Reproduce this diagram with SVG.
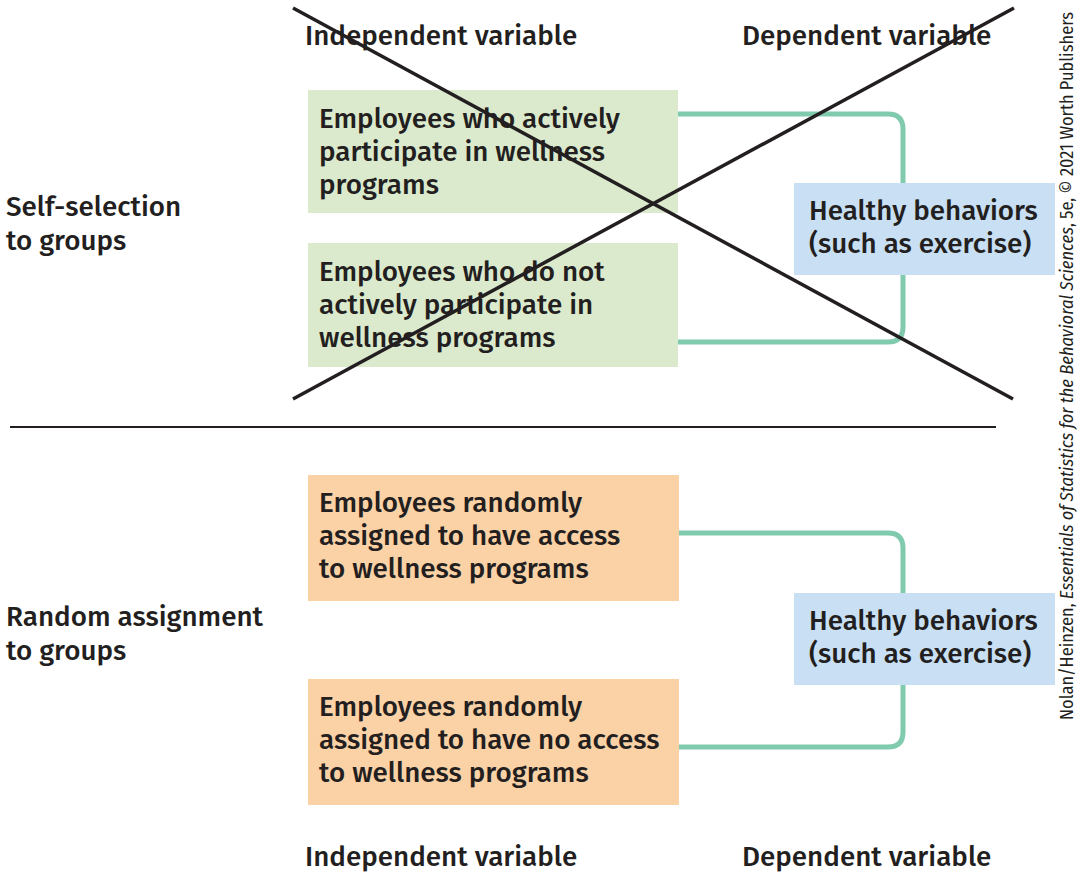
<svg xmlns="http://www.w3.org/2000/svg" width="1084" height="881" viewBox="0 0 1084 881">
<style>
text{font-family:"Fira Sans",Roboto,"Liberation Sans",sans-serif;font-weight:500;fill:#231f20;font-size:27.8px}
.g{fill:#dbeacd}.o{fill:#fbd1a6}.b{fill:#c8dff4}
.c{fill:none;stroke:#80cbad;stroke-width:5}
.x{stroke:#231f20;stroke-width:3.5}
.cr{font-size:18.3px;font-weight:400;font-family:"Fira Sans Condensed","Fira Sans",Roboto,sans-serif}
</style>
<rect width="1084" height="881" fill="#fff"/>
<g id="connectors">
<path class="c" d="M678 114 H888 Q903 114 903 129 V327 Q903 342 888 342 H678"/>
<path class="c" d="M678 533 H888 Q903 533 903 548 V732 Q903 747 888 747 H678"/>
</g>
<g id="headers">
<text x="305" y="45">Independent variable</text>
<text x="742" y="45">Dependent variable</text>
<text x="305" y="866">Independent variable</text>
<text x="742" y="866">Dependent variable</text>
</g>
<g id="label-self">
<text x="6" y="216">Self-selection</text>
<text x="6" y="250">to groups</text>
</g>
<g id="label-random">
<text x="6" y="626">Random assignment</text>
<text x="6" y="660">to groups</text>
</g>
<g id="node-active">
<rect class="g" x="308" y="90" width="370" height="123"/>
<text x="319" y="128">Employees who actively</text>
<text x="319" y="161">participate in wellness</text>
<text x="319" y="194">programs</text>
</g>
<g id="node-notactive">
<rect class="g" x="308" y="243" width="370" height="124"/>
<text x="319" y="281">Employees who do not</text>
<text x="319" y="314">actively participate in</text>
<text x="319" y="347">wellness programs</text>
</g>
<g id="node-healthy1">
<rect class="b" x="794" y="183" width="261" height="92"/>
<text x="809" y="220">Healthy behaviors</text>
<text x="809" y="253">(such as exercise)</text>
</g>
<g id="cross">
<line class="x" x1="293" y1="8" x2="1013" y2="399"/>
<line class="x" x1="293" y1="399" x2="1014" y2="8"/>
</g>
<line id="divider" x1="10" y1="427" x2="996" y2="427" stroke="#231f20" stroke-width="2"/>
<g id="node-access">
<rect class="o" x="308" y="475" width="371" height="126"/>
<text x="319" y="512">Employees randomly</text>
<text x="319" y="545">assigned to have access</text>
<text x="319" y="578">to wellness programs</text>
</g>
<g id="node-noaccess">
<rect class="o" x="308" y="679" width="371" height="126"/>
<text x="319" y="716">Employees randomly</text>
<text x="319" y="749">assigned to have no access</text>
<text x="319" y="782">to wellness programs</text>
</g>
<g id="node-healthy2">
<rect class="b" x="794" y="593" width="261" height="92"/>
<text x="809" y="630">Healthy behaviors</text>
<text x="809" y="663">(such as exercise)</text>
</g>
<text class="cr" transform="translate(1073 720) rotate(-90)" x="0" y="0">Nolan/Heinzen, <tspan font-style="italic">Essentials of Statistics for the Behavioral Sciences</tspan>, 5e, © 2021 Worth Publishers</text>
</svg>
